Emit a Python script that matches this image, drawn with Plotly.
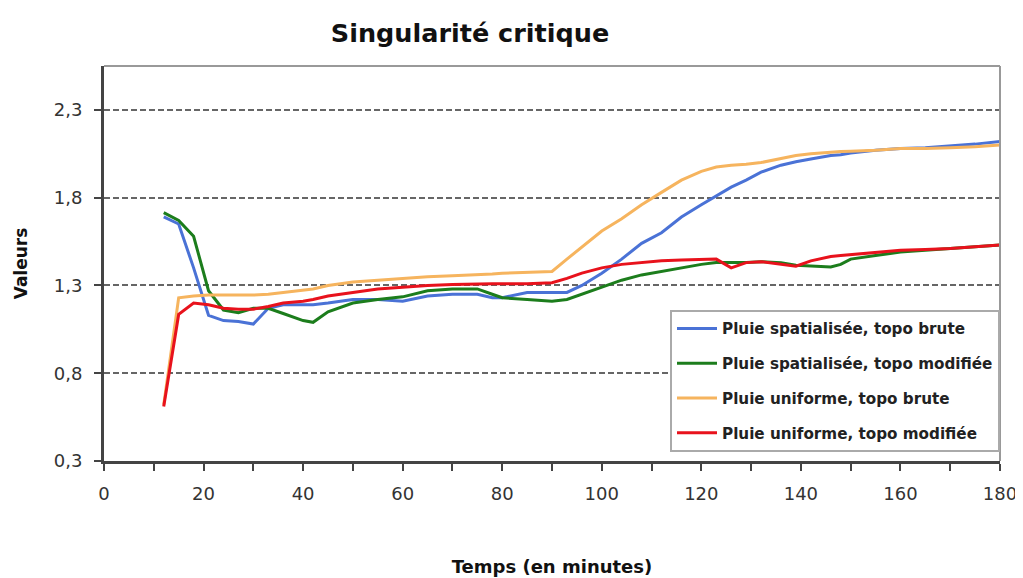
import plotly.graph_objects as go

temps = [12, 15, 18, 21, 24, 27, 30, 33, 36, 40, 42, 45, 50, 55, 60, 65, 70, 75, 78, 80,
         85, 90, 93, 96, 100, 104, 108, 112, 116, 120, 123, 126, 129, 132, 136, 139, 142,
         146, 148, 150, 155, 160, 165, 170, 175, 180]

spat_brute = [1.69, 1.65, 1.40, 1.13, 1.10, 1.095, 1.08, 1.17, 1.19, 1.19, 1.19, 1.20, 1.22,
              1.22, 1.21, 1.24, 1.25, 1.25, 1.23, 1.23, 1.26, 1.26, 1.26, 1.30, 1.37, 1.45,
              1.54, 1.60, 1.69, 1.76, 1.81, 1.86, 1.90, 1.945, 1.985, 2.005, 2.02, 2.04,
              2.045, 2.055, 2.07, 2.08, 2.085, 2.095, 2.105, 2.12]

spat_modif = [1.715, 1.67, 1.58, 1.27, 1.16, 1.145, 1.17, 1.17, 1.14, 1.10, 1.09, 1.15, 1.20,
              1.22, 1.235, 1.27, 1.28, 1.28, 1.25, 1.23, 1.22, 1.21, 1.22, 1.25, 1.29, 1.33,
              1.36, 1.38, 1.40, 1.42, 1.43, 1.43, 1.43, 1.435, 1.43, 1.415, 1.41, 1.405,
              1.42, 1.45, 1.47, 1.49, 1.50, 1.51, 1.52, 1.53]

unif_brute = [0.62, 1.23, 1.24, 1.245, 1.245, 1.245, 1.245, 1.25, 1.26, 1.27, 1.28, 1.30, 1.32,
              1.33, 1.34, 1.35, 1.355, 1.36, 1.365, 1.37, 1.375, 1.38, 1.45, 1.52, 1.61, 1.68,
              1.76, 1.83, 1.90, 1.95, 1.975, 1.985, 1.99, 2.00, 2.025, 2.04, 2.05, 2.06,
              2.063, 2.065, 2.07, 2.08, 2.08, 2.085, 2.09, 2.10]

unif_modif = [0.61, 1.135, 1.20, 1.19, 1.17, 1.165, 1.165, 1.18, 1.20, 1.21, 1.22, 1.24, 1.26,
              1.28, 1.29, 1.30, 1.305, 1.31, 1.31, 1.31, 1.31, 1.315, 1.34, 1.37, 1.40, 1.42,
              1.43, 1.44, 1.445, 1.45, 1.45, 1.40, 1.43, 1.435, 1.42, 1.41, 1.44, 1.465,
              1.47, 1.475, 1.49, 1.50, 1.505, 1.51, 1.52, 1.53]

noms = ["Pluie spatialisée, topo brute", "Pluie spatialisée, topo modifiée",
        "Pluie uniforme, topo brute", "Pluie uniforme, topo modifiée"]
couleurs = ["#4a72d6", "#1c7d1c", "#f6b45e", "#e8121c"]

y_ticks = [0.3, 0.8, 1.3, 1.8, 2.3]
y_labels = ["0,3", "0,8", "1,3", "1,8", "2,3"]
x_ticks = [0, 20, 40, 60, 80, 100, 120, 140, 160, 180]

FONT = "DejaVu Sans, Verdana, sans-serif"

# page body has an 8px margin: figure is sized/offset to fit the 1023x578 window
W, H = 1015, 570

fig = go.Figure()
for nom, serie, c in zip(noms, [spat_brute, spat_modif, unif_brute, unif_modif], couleurs):
    fig.add_trace(go.Scatter(x=temps, y=serie, mode="lines", name="<b>" + nom + "</b>",
                             legendgroup=nom, line=dict(color=c, width=3)))

fig.update_layout(
    width=W, height=H,
    paper_bgcolor="white", plot_bgcolor="white",
    margin=dict(l=96, r=23, t=58, b=117),
    font=dict(family=FONT, color="#333"),
    title=dict(text="<b>Singularité critique</b>", x=462/W, xanchor="center",
               y=1 - 25/H, yanchor="middle", font=dict(size=25.5, color="#111")),
    showlegend=True,
    legend=dict(x=1, xanchor="right", y=0.382, yanchor="top",
                bgcolor="white", bordercolor="#aaa", borderwidth=2,
                font=dict(size=15.2, color="#222"), tracegroupgap=12,
                itemwidth=40),
    xaxis=dict(range=[0, 180], tickvals=x_ticks, ticks="outside", ticklen=7, tickwidth=2,
               tickcolor="#444", showline=True, linecolor="#444", linewidth=3,
               showgrid=False, zeroline=False, tickfont=dict(size=18, color="#333"),
               ticklabelstandoff=7, automargin=False,
               minor=dict(ticks="outside", dtick=10, ticklen=7, tickwidth=2, tickcolor="#444"),
               title=dict(text="<b>Temps (en minutes)</b>", font=dict(size=18, color="#111"),
                          standoff=58)),
    yaxis=dict(range=[0.3, 2.55], tickvals=y_ticks, ticktext=y_labels, ticks="outside",
               ticklen=7, tickwidth=2, tickcolor="#444", showline=True, linecolor="#444",
               linewidth=3, showgrid=True, gridcolor="#666", gridwidth=2,
               griddash="6px,3px", zeroline=False, tickfont=dict(size=18, color="#333"),
               ticklabelstandoff=8, automargin=False,
               title=dict(text="<b>Valeurs</b>", font=dict(size=17, color="#111"), standoff=22)),
    shapes=[
        dict(type="line", xref="paper", yref="paper", x0=0, x1=1, y0=1, y1=1,
             line=dict(color="#999", width=2)),
        dict(type="line", xref="paper", yref="paper", x0=1, x1=1, y0=0, y1=1,
             line=dict(color="#999", width=2)),
    ],
)

fig.write_html("out.html")
